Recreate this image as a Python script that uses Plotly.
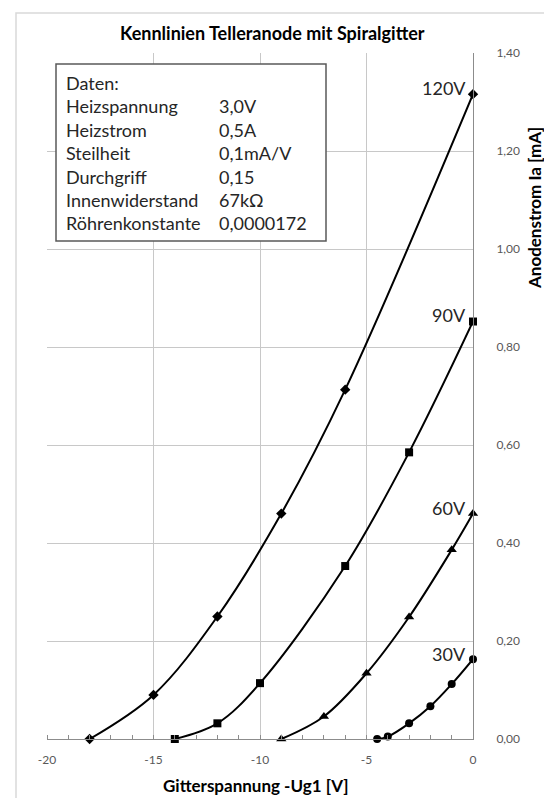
import plotly.graph_objects as go

# ---------------- data ----------------
x_120 = [-18, -15, -12, -9, -6, 0]
y_120 = [0.0, 0.09, 0.25, 0.46, 0.713, 1.316]

x_90 = [-14, -12, -10, -6, -3, 0]
y_90 = [0.0, 0.032, 0.114, 0.353, 0.585, 0.852]

x_60 = [-9, -7, -5, -3, -1, 0]
y_60 = [0.0, 0.046, 0.134, 0.249, 0.386, 0.46]

x_30 = [-4.5, -4, -3, -2, -1, 0]
y_30 = [0.0, 0.005, 0.032, 0.067, 0.112, 0.163]

series_names = ["120V", "90V", "60V", "30V"]
series_symbols = ["diamond", "square", "triangle-up", "circle"]

x_tickvals = [-20, -15, -10, -5, 0]
x_ticktext = ["-20", "-15", "-10", "-5", "0"]

info_labels = ["Daten:", "Heizspannung", "Heizstrom", "Steilheit", "Durchgriff",
               "Innenwiderstand", "Röhrenkonstante"]
info_values = ["", "3,0V", "0,5A", "0,1mA/V", "0,15", "67kΩ", "0,0000172"]

title_text = "Kennlinien Telleranode mit Spiralgitter"
x_title = "Gitterspannung -Ug1 [V]"
y_title = "Anodenstrom Ia [mA]"

# ---------------- layout geometry ----------------
# body margin is removed via post_script, so figure pixels == page pixels
W, H = 544, 798
PLOT_L, PLOT_R, PLOT_T, PLOT_B = 47, 473, 53, 739   # page pixels
L, T = PLOT_L, PLOT_T
R, B = W - PLOT_R, H - PLOT_B
PW, PH = W - L - R, H - T - B


def px(xp):
    return (xp - L) / PW


def py(yp):
    return (H - B - yp) / PH


FONT = "Lato"
TXT = "#262626"

fig = go.Figure()

xs = [x_120, x_90, x_60, x_30]
ys = [y_120, y_90, y_60, y_30]
yshifts = [6, 7, 6, 5]
for xv, yv, name, sym in zip(xs, ys, series_names, series_symbols):
    fig.add_trace(go.Scatter(
        x=xv, y=yv, mode="lines+markers", name=name,
        line=dict(color="#000000", width=2, shape="spline", smoothing=1.0),
        marker=dict(symbol=sym, size=8 if sym != "triangle-up" else 9,
                    color="#000000"),
        showlegend=False, cliponaxis=False,
    ))

annotations = []
for xv, yv, name, ysh in zip(xs, ys, series_names, yshifts):
    annotations.append(dict(
        x=xv[-1], y=yv[-1], xref="x", yref="y", text=name, showarrow=False,
        xanchor="right", yanchor="middle", xshift=-5, yshift=ysh,
        font=dict(family=FONT, size=18, color=TXT)))

# title
annotations.append(dict(x=px(272), y=py(33), xref="paper", yref="paper",
                        text="<b>" + title_text + "</b>", showarrow=False,
                        xanchor="center", yanchor="middle",
                        font=dict(family=FONT, size=18, color="#000000")))
# axis titles
annotations.append(dict(x=px(256), y=py(785), xref="paper", yref="paper",
                        text="<b>" + x_title + "</b>", showarrow=False,
                        xanchor="center", yanchor="middle",
                        font=dict(family=FONT, size=17, color="#000000")))
annotations.append(dict(x=px(535), y=py(208), xref="paper", yref="paper",
                        text="<b>" + y_title + "</b>", showarrow=False,
                        textangle=-90, xanchor="center", yanchor="middle",
                        font=dict(family=FONT, size=17, color="#000000")))

# info box text
line0 = 83
spacing = 23.4
for i, (lab, val) in enumerate(zip(info_labels, info_values)):
    yy = py(line0 + i * spacing)
    annotations.append(dict(x=px(64), y=yy, xref="paper", yref="paper",
                            text=lab, showarrow=False, xanchor="left",
                            yanchor="middle",
                            font=dict(family=FONT, size=18, color=TXT)))
    if val:
        annotations.append(dict(x=px(217), y=yy, xref="paper", yref="paper",
                                text=val, showarrow=False, xanchor="left",
                                yanchor="middle",
                                font=dict(family=FONT, size=18, color=TXT)))

shapes = [
    # outer chart border
    dict(type="rect", xref="paper", yref="paper",
         x0=px(16), x1=px(560), y0=py(820), y1=py(13),
         line=dict(color="#d9d9d9", width=1.5), fillcolor="rgba(0,0,0,0)",
         layer="below"),
    # info box
    dict(type="rect", xref="paper", yref="paper",
         x0=px(56), x1=px(326), y0=py(241), y1=py(64),
         line=dict(color="#595959", width=1.5), fillcolor="#ffffff",
         layer="above"),
]

fig.update_layout(
    width=W, height=H,
    margin=dict(l=L, r=R, t=T, b=B, autoexpand=False),
    paper_bgcolor="#ffffff", plot_bgcolor="#ffffff",
    separators=",.",
    showlegend=False,
    annotations=annotations,
    shapes=shapes,
    xaxis=dict(
        range=[-20, 0], tickvals=x_tickvals, ticktext=x_ticktext,
        showgrid=True, gridcolor="#c8c8c8", gridwidth=1,
        zeroline=False, showline=True, linecolor="#8c8c8c", linewidth=1,
        ticks="", tickfont=dict(family=FONT, size=12, color="#595959"),
        ticklabelstandoff=10,
        minor=dict(dtick=1, tick0=0, ticks="inside", ticklen=4,
                   tickcolor="#8c8c8c", showgrid=False),
        fixedrange=True,
    ),
    yaxis=dict(
        range=[0, 1.4], dtick=0.2, tick0=0, tickformat=".2f", side="right",
        showgrid=True, gridcolor="#c8c8c8", gridwidth=1,
        zeroline=False, showline=True, linecolor="#8c8c8c", linewidth=1,
        ticks="", tickfont=dict(family=FONT, size=12, color="#595959"),
        ticklabelstandoff=20,
        fixedrange=True,
    ),
)

fig.write_html(
    "out.html",
    config={"displayModeBar": False, "staticPlot": True},
    post_script=("document.body.style.margin='0px';"
                 "document.body.style.overflow='hidden';"
                 "document.documentElement.style.overflow='hidden';"),
)
